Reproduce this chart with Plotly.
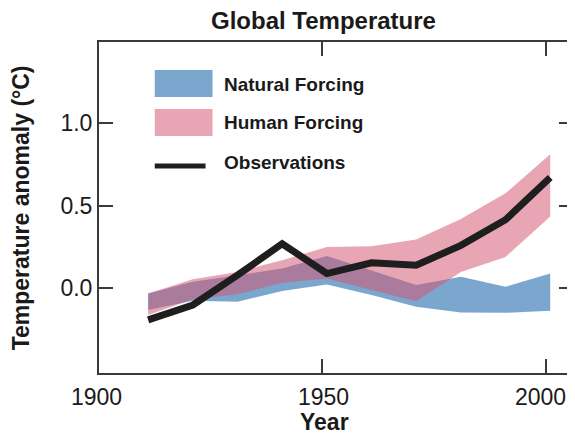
import plotly.graph_objects as go

# ---- data ----
years = [1911, 1921, 1931, 1941, 1951, 1961, 1971, 1981, 1991, 2001]
observations = [-0.19, -0.10, 0.08, 0.27, 0.09, 0.155, 0.14, 0.26, 0.415, 0.67]
natural_upper = [-0.03, 0.04, 0.08, 0.12, 0.196, 0.11, 0.02, 0.07, 0.01, 0.09]
natural_lower = [-0.13, -0.075, -0.08, -0.016, 0.024, -0.04, -0.11, -0.145, -0.147, -0.135]
human_upper = [-0.03, 0.055, 0.10, 0.17, 0.25, 0.255, 0.295, 0.42, 0.575, 0.81]
human_lower = [-0.16, -0.065, -0.035, 0.034, 0.06, -0.01, -0.077, 0.10, 0.19, 0.435]

x_ticks = [1900, 1950, 2000]
x_ticktext = ["1900", "1950", "2000"]
y_ticks = [0.0, 0.5, 1.0]
y_ticktext = ["0.0", "0.5", "1.0"]

legend_labels = ["Natural Forcing", "Human Forcing", "Observations"]

# ---- style ----
OFF = 8  # default page body margin
W, H = 575 - OFF, 440 - OFF
L, R, T, B = 99 - OFF, 0, 42 - OFF, 440 - 373
FONT = "Liberation Sans, Arial, Helvetica, sans-serif"
TXT = "#1a1a1a"
AX = "#3a3a3a"
BLUE = "rgba(6,89,163,0.53)"
PINK = "rgba(212,85,114,0.53)"
OBS = "#1e1e1e"
XLABEL_SHIFT = [-3, 1, -5]

pw = W - L - R
ph = H - T - B


def px_x(x):
    # page pixel -> paper coordinate
    return (x - OFF - L) / pw


def px_y(y):
    return (H - B - (y - OFF)) / ph


fig = go.Figure()

fig.add_trace(go.Scatter(
    x=years + years[::-1], y=natural_upper + natural_lower[::-1],
    fill="toself", fillcolor=BLUE, mode="lines",
    line=dict(width=0, color="rgba(0,0,0,0)"), hoverinfo="skip", showlegend=False))
fig.add_trace(go.Scatter(
    x=years + years[::-1], y=human_upper + human_lower[::-1],
    fill="toself", fillcolor=PINK, mode="lines",
    line=dict(width=0, color="rgba(0,0,0,0)"), hoverinfo="skip", showlegend=False))
fig.add_trace(go.Scatter(
    x=years, y=observations, mode="lines",
    line=dict(width=7, color=OBS), showlegend=False))

# custom legend (paper coordinates)
shapes = [
    dict(type="rect", xref="paper", yref="paper",
         x0=px_x(155), x1=px_x(213), y0=px_y(97), y1=px_y(70),
         fillcolor=BLUE, line=dict(width=0)),
    dict(type="rect", xref="paper", yref="paper",
         x0=px_x(155), x1=px_x(213), y0=px_y(136), y1=px_y(109),
         fillcolor=PINK, line=dict(width=0)),
    dict(type="line", xref="paper", yref="paper",
         x0=px_x(155), x1=px_x(206), y0=px_y(166), y1=px_y(166),
         line=dict(width=5, color=OBS)),
]
annotations = []
for lab, yy in zip(legend_labels, [84, 123, 162]):
    annotations.append(dict(
        text=lab, xref="paper", yref="paper", x=px_x(223), y=px_y(yy),
        xanchor="left", yanchor="middle", showarrow=False,
        font=dict(family=FONT, size=19, color=TXT, weight="bold")))

# x tick labels (placed at the tick values, nudged as in the reference)
for tv, tt, sh in zip(x_ticks, x_ticktext, XLABEL_SHIFT):
    annotations.append(dict(
        text=tt, xref="x", yref="paper", x=tv, y=px_y(397), xshift=sh,
        xanchor="center", yanchor="middle", showarrow=False,
        font=dict(family=FONT, size=23, color=TXT)))

annotations.append(dict(
    text="Global Temperature", xref="paper", yref="paper",
    x=px_x(324.5), y=px_y(21), xanchor="center", yanchor="middle",
    showarrow=False, font=dict(family=FONT, size=24, color=TXT, weight="bold")))
annotations.append(dict(
    text="Year", xref="paper", yref="paper",
    x=px_x(325.5), y=px_y(422), xanchor="center", yanchor="middle",
    showarrow=False, font=dict(family=FONT, size=23, color=TXT, weight="bold")))
annotations.append(dict(
    text="Temperature anomaly (°C)", xref="paper", yref="paper",
    x=px_x(21), y=px_y(208), xanchor="center", yanchor="middle", textangle=-90,
    showarrow=False, font=dict(family=FONT, size=23, color=TXT, weight="bold")))

fig.update_layout(
    width=W, height=H,
    margin=dict(l=L, r=R, t=T, b=B, pad=0),
    paper_bgcolor="white", plot_bgcolor="white",
    shapes=shapes, annotations=annotations,
    font=dict(family=FONT, color=TXT),
    showlegend=False,
)
fig.update_xaxes(
    range=[1900, 2006.1], tickvals=x_ticks, ticktext=x_ticktext,
    showticklabels=False,
    ticks="inside", ticklen=14, tickwidth=2, tickcolor=AX,
    showline=True, linewidth=2, linecolor=AX, mirror="ticks",
    showgrid=False, zeroline=False,
)
fig.update_yaxes(
    range=[-0.511, 1.489], tickvals=y_ticks, ticktext=y_ticktext,
    ticks="inside", ticklen=14, tickwidth=2, tickcolor=AX,
    showline=True, linewidth=2, linecolor=AX, mirror="ticks",
    showgrid=False, zeroline=False,
    tickfont=dict(family=FONT, size=23, color=TXT),
)

fig.write_html("out.html")
